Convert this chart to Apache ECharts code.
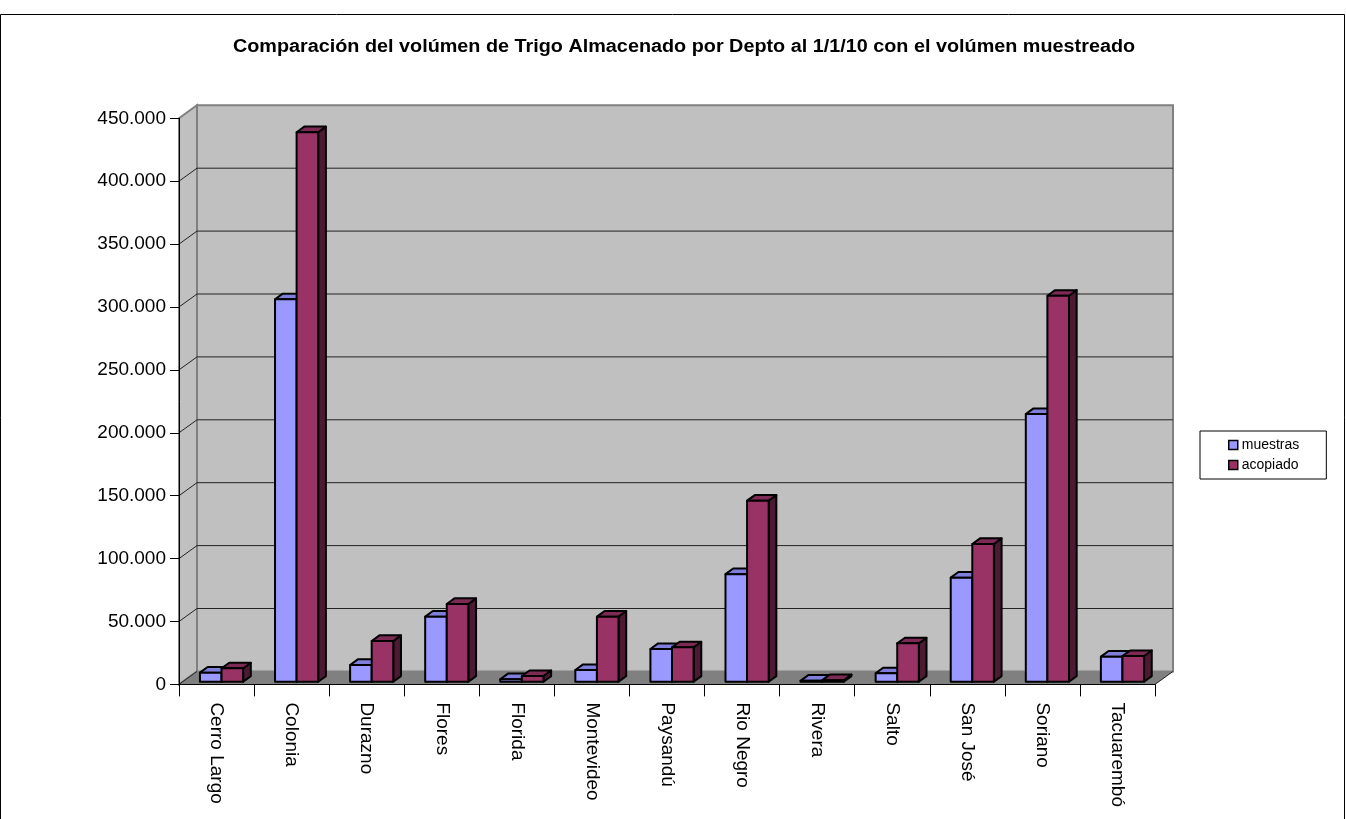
<!DOCTYPE html>
<html>
<head>
<meta charset="utf-8">
<script src="https://cdn.jsdelivr.net/npm/echarts@6/dist/echarts.min.js"></script>
<style>
  html, body { margin: 0; padding: 0; background: #ffffff; }
  #chart { width: 1346px; height: 819px; }
</style>
</head>
<body>
<div id="chart"></div>
<script>
// Departamentos
const categories = ['Cerro Largo', 'Colonia', 'Durazno', 'Flores', 'Florida', 'Montevideo',
  'Paysandú', 'Rio Negro', 'Rivera', 'Salto', 'San José', 'Soriano', 'Tacuarembó'];
// Volumen muestreado
const muestras = [7200, 304000, 13300, 51700, 2000, 9300, 26000, 85500, 800, 6700, 82700, 212800, 19900];
// Volumen acopiado
const acopiado = [10600, 436800, 32400, 61800, 4500, 51700, 27300, 143900, 1200, 30500, 109500, 306800, 20400];
// Eje de valores
const yMin = 0, yMax = 450000, yStep = 50000;

const seriesNames = ['muestras', 'acopiado'];
const titleText = 'Comparación del volúmen de Trigo Almacenado por Depto al 1/1/10 con el volúmen muestreado';
const faceColors = [
  { front: '#9999ff', top: '#7f7fdb', side: '#4c4c80' },
  { front: '#993366', top: '#7d2a55', side: '#4d1a33' }
];
const FONT = 'Liberation Sans, Arial, sans-serif';

// 3D projection of the chart box: depth vector of the walls, and the bars' offsets
const DEPTH = [18, -13];
const BAR_OFF = [5, -2.7];
const BAR_DEPTH = [7.7, -5.6];

function fmt(v) {
  return String(v).replace(/\B(?=(\d{3})+(?!\d))/g, '.');
}

function wallsRender(params, api) {
  const cs = params.coordSys;
  const x0 = cs.x, x1 = cs.x + cs.width;
  const yb = api.coord([0, yMin])[1];
  const yt = api.coord([0, yMax])[1];
  const dx = DEPTH[0], dy = DEPTH[1];
  const children = [];
  // back wall
  children.push({ type: 'polygon', shape: { points: [[x0 + dx, yt + dy], [x1 + dx, yt + dy], [x1 + dx, yb + dy], [x0 + dx, yb + dy]] },
    style: { fill: '#c0c0c0', stroke: '#808080', lineWidth: 2 } });
  // left wall
  children.push({ type: 'polygon', shape: { points: [[x0, yt], [x0 + dx, yt + dy], [x0 + dx, yb + dy], [x0, yb]] },
    style: { fill: '#c0c0c0', stroke: '#808080', lineWidth: 2 } });
  // gridlines on back and left walls
  for (let v = yMin + yStep; v <= yMax - yStep; v += yStep) {
    const y = api.coord([0, v])[1];
    children.push({ type: 'polyline', shape: { points: [[x0, y], [x0 + dx, y + dy], [x1 + dx, y + dy]] },
      style: { stroke: '#222', lineWidth: 1, fill: null } });
  }
  // floor
  children.push({ type: 'polygon', shape: { points: [[x0, yb], [x0 + dx, yb + dy], [x1 + dx, yb + dy], [x1, yb]] },
    style: { fill: '#808080', stroke: null } });
  children.push({ type: 'line', shape: { x1: x0, y1: yb, x2: x0 + dx, y2: yb + dy }, style: { stroke: '#222', lineWidth: 1 } });
  children.push({ type: 'line', shape: { x1: x1, y1: yb, x2: x1 + dx, y2: yb + dy }, style: { stroke: '#222', lineWidth: 1 } });
  return { type: 'group', children: children };
}

function barRender(k) {
  return function (params, api) {
    const i = api.value(0), v = api.value(1);
    const c = api.coord([i, v]);
    const y0 = api.coord([i, 0])[1] + BAR_OFF[1];
    const yT = c[1] + BAR_OFF[1];
    const band = api.size([1, 0])[0];
    const bw = band * 0.2875;
    const xa = c[0] + BAR_OFF[0] - bw + k * bw;
    const xb = xa + bw;
    const dx = BAR_DEPTH[0], dy = BAR_DEPTH[1];
    const col = faceColors[k];
    const st = { stroke: '#000', lineWidth: 2, lineJoin: 'round' };
    return {
      type: 'group',
      children: [
        { type: 'polygon', shape: { points: [[xb, yT], [xb + dx, yT + dy], [xb + dx, y0 + dy], [xb, y0]] },
          style: Object.assign({ fill: col.side }, st) },
        { type: 'polygon', shape: { points: [[xa, yT], [xb, yT], [xb + dx, yT + dy], [xa + dx, yT + dy]] },
          style: Object.assign({ fill: col.top }, st) },
        { type: 'polygon', shape: { points: [[xa, yT], [xb, yT], [xb, y0], [xa, y0]] },
          style: Object.assign({ fill: col.front }, st) }
      ]
    };
  };
}

const chart = echarts.init(document.getElementById('chart'), null, { renderer: 'canvas' });

chart.setOption({
  backgroundColor: '#ffffff',
  animation: false,
  graphic: [
    {
      type: 'rect', silent: true, z: -10,
      shape: { x: 0.5, y: 14.5, width: 1344, height: 900 },
      style: { fill: null, stroke: '#000', lineWidth: 1 }
    },
    {
      // chart title, slightly widened like the sheet's rendering
      type: 'text', silent: true, z: 10,
      x: 684, y: 47, scaleX: 1.1, scaleY: 1,
      style: { text: titleText, textAlign: 'center', textVerticalAlign: 'middle',
        fontFamily: FONT, fontSize: 18, fontWeight: 'bold', fill: '#000' }
    }
  ],
  legend: {
    data: seriesNames,
    orient: 'vertical',
    left: 1200,
    top: 431,
    padding: [7, 27, 7, 28],
    itemGap: 6,
    itemWidth: 9,
    itemHeight: 9,
    icon: 'rect',
    backgroundColor: '#fff',
    borderColor: '#000',
    borderWidth: 1,
    borderRadius: 0,
    itemStyle: { borderColor: '#000', borderWidth: 1.5 },
    textStyle: { fontFamily: FONT, fontSize: 14, color: '#000', padding: [0, 0, 0, -1] }
  },
  grid: { left: 179, right: 191, top: 118.3, bottom: 134.6, containLabel: false },
  xAxis: {
    type: 'category',
    data: categories,
    z: 10,
    boundaryGap: true,
    axisLine: { show: true, lineStyle: { color: '#000', width: 1 } },
    axisTick: { show: true, length: 12, lineStyle: { color: '#000' } },
    axisLabel: { rotate: -90, margin: 18, interval: 0, fontFamily: FONT, fontSize: 19, color: '#000' },
    splitLine: { show: false }
  },
  yAxis: {
    type: 'value',
    min: yMin, max: yMax, interval: yStep,
    z: 10,
    axisLine: { show: true, lineStyle: { color: '#000', width: 1 } },
    axisTick: { show: true, length: 9, lineStyle: { color: '#000' } },
    axisLabel: { margin: 13, formatter: fmt, fontFamily: FONT, fontSize: 19, color: '#000' },
    splitLine: { show: false }
  },
  series: [
    { type: 'custom', name: '_walls', silent: true, z: 1, renderItem: wallsRender, data: [[0, 0]], clip: false },
    { type: 'custom', name: seriesNames[0], z: 3, renderItem: barRender(0),
      itemStyle: { color: faceColors[0].front }, data: muestras.map((v, i) => [i, v]) },
    { type: 'custom', name: seriesNames[1], z: 4, renderItem: barRender(1),
      itemStyle: { color: faceColors[1].front }, data: acopiado.map((v, i) => [i, v]) }
  ]
});
</script>
</body>
</html>
